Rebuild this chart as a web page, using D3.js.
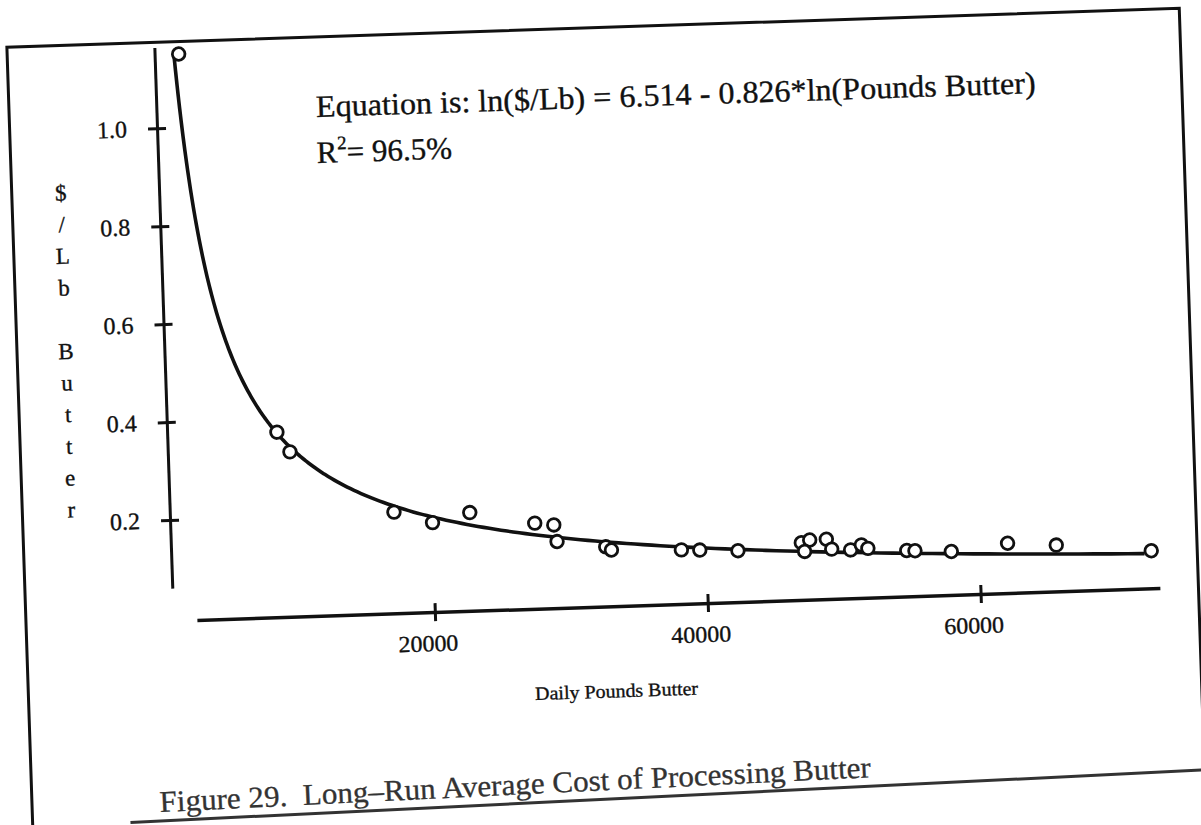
<!DOCTYPE html>
<html>
<head>
<meta charset="utf-8">
<script src="https://cdn.jsdelivr.net/npm/d3@7"></script>
<style>
  body { margin: 0; background: #fff; }
  svg { display: block; }
  .serif { font-family: "Liberation Serif", "Times New Roman", serif; fill: #111; stroke: #111; stroke-width: 0.35px; }
</style>
</head>
<body>
<script>
// Daily pounds of butter and processing cost ($/Lb)
var pounds = [2600, 8875, 9780, 17250, 20050, 22800, 27530, 28920, 29120, 32670,
              33080, 38200, 39550, 42340, 47000, 47620, 47220, 48840, 49210, 50590,
              51390, 51860, 54700, 55300, 57960, 62100, 65660, 72600];
var costPerLb = [1.15, 0.372, 0.331, 0.201, 0.177, 0.195, 0.169, 0.164, 0.130, 0.116,
                 0.109, 0.1045, 0.103, 0.099, 0.111, 0.116, 0.093, 0.1165, 0.096, 0.093,
                 0.1025, 0.095, 0.088, 0.087, 0.083, 0.096, 0.089, 0.071];

var yTicks = [0.2, 0.4, 0.6, 0.8, 1.0];
var xTicks = [20000, 40000, 60000];
var yLabelLetters = ["$", "/", "L", "b", "", "B", "u", "t", "t", "e", "r"];

// fitted line printed on the chart: ln($/Lb) = a - b*ln(Pounds)
var fitA = 6.514, fitB = 0.826;
var fitFrom = 2250, fitTo = 72100;

var equationText = "Equation is: ln($/Lb) = 6.514 - 0.826*ln(Pounds Butter)";
var captionText = "Figure 29.  Long\u2013Run Average Cost of Processing Butter";

var W = 1201, H = 825;
var svg = d3.select("body").append("svg").attr("width", W).attr("height", H);
svg.append("rect").attr("width", W).attr("height", H).attr("fill", "#fff");

// the page was scanned a little crooked
var pivotX = 173.4, pivotY = 620.8;
var g = svg.append("g").attr("transform", "rotate(-1.9," + pivotX + "," + pivotY + ")");

// scales: domains are the visible axis extents
var x = d3.scaleLinear().domain([2560, 73140]).range([196.9, 1160.4]);
var y = d3.scaleLinear().domain([0.061, 1.165]).range([588.1, 47.15]);
var yAxisAt = 835, xAxisAt = -0.0057;

// frame round the figure
g.append("path")
  .attr("d", "M26,900 L26,42 L1199,42 L1199,797")
  .attr("fill", "none").attr("stroke", "#111").attr("stroke-width", 3);

// y axis
var yAxis = d3.axisLeft(y).tickValues(yTicks).tickSizeInner(10).tickSizeOuter(0).tickPadding(20)
  .tickFormat(d3.format(".1f"));
var ya = g.append("g").attr("transform", "translate(" + x(yAxisAt) + ",0)").call(yAxis);
ya.select(".domain").attr("stroke", "#111").attr("stroke-width", 3);
ya.selectAll(".tick line").attr("x1", 9).attr("x2", -9).attr("stroke", "#111").attr("stroke-width", 3);
ya.selectAll(".tick text").attr("class", "serif").attr("font-size", 24);

// x axis
var xAxis = d3.axisBottom(x).tickValues(xTicks).tickSizeInner(9).tickSizeOuter(0).tickFormat(d3.format("d"));
var xa = g.append("g").attr("transform", "translate(0," + y(xAxisAt) + ")").call(xAxis);
xa.select(".domain").attr("stroke", "#111").attr("stroke-width", 3.5);
xa.selectAll(".tick line").attr("y1", -9).attr("y2", 9).attr("stroke", "#111").attr("stroke-width", 3);
xa.selectAll(".tick text").attr("class", "serif").attr("font-size", 23)
  .attr("textLength", 60).attr("lengthAdjust", "spacingAndGlyphs")
  .attr("y", 39).attr("dy", 0).attr("dx", -8);
ya.attr("font-family", null);
xa.attr("font-family", null);

// axis titles
g.append("text").attr("class", "serif").attr("x", 614).attr("y", 712)
  .attr("text-anchor", "middle").attr("font-size", 19)
  .attr("textLength", 163).attr("lengthAdjust", "spacingAndGlyphs")
  .text("Daily Pounds Butter");

g.selectAll(".ylet").data(yLabelLetters).enter().append("text")
  .attr("class", "serif ylet")
  .attr("x", 75).attr("y", function(d, i) { return 189.5 + i * 31.7; })
  .attr("text-anchor", "middle").attr("dominant-baseline", "central")
  .attr("font-size", 23).text(function(d) { return d; });

// fitted curve
var curvePts = d3.range(0, 201).map(function(i) {
  var px = fitFrom * Math.pow(fitTo / fitFrom, i / 200);
  return [px, Math.exp(fitA - fitB * Math.log(px))];
});
var line = d3.line().x(function(d) { return x(d[0]); }).y(function(d) { return y(d[1]); })
  .curve(d3.curveBasis);
g.append("path").datum(curvePts).attr("d", line)
  .attr("fill", "none").attr("stroke", "#111").attr("stroke-width", 3.6);

// data points
var pts = pounds.map(function(p, i) { return { x: p, y: costPerLb[i] }; });
g.selectAll(".pt").data(pts).enter().append("circle")
  .attr("class", "pt")
  .attr("cx", function(d) { return x(d.x); })
  .attr("cy", function(d) { return y(d.y); })
  .attr("r", 6.3)
  .attr("fill", "#fff").attr("stroke", "#111").attr("stroke-width", 2.8);

// equation and R squared
g.append("text").attr("class", "serif").attr("x", 333).attr("y", 122)
  .attr("font-size", 31).attr("textLength", 720).attr("lengthAdjust", "spacingAndGlyphs")
  .text(equationText);
var r2 = g.append("text").attr("class", "serif").attr("x", 332).attr("y", 168).attr("font-size", 31);
r2.append("tspan").text("R");
r2.append("tspan").attr("dy", -13).attr("font-size", 19).text("2");
r2.append("tspan").attr("dy", 13).text("= 96.5%");

// caption, skewed a bit more than the plot
var cap = svg.append("g").attr("transform", "rotate(-2.8,160,812)");
cap.append("text").attr("x", 160).attr("y", 812)
  .attr("font-family", "'Liberation Serif', serif").attr("font-size", 30)
  .attr("fill", "#333").attr("stroke", "#333").attr("stroke-width", 0.3)
  .style("white-space", "pre")
  .attr("textLength", 712).attr("lengthAdjust", "spacingAndGlyphs")
  .text(captionText);
cap.append("line").attr("x1", 130).attr("x2", 1240).attr("y1", 821).attr("y2", 821)
  .attr("stroke", "#333").attr("stroke-width", 3);
</script>
</body>
</html>
